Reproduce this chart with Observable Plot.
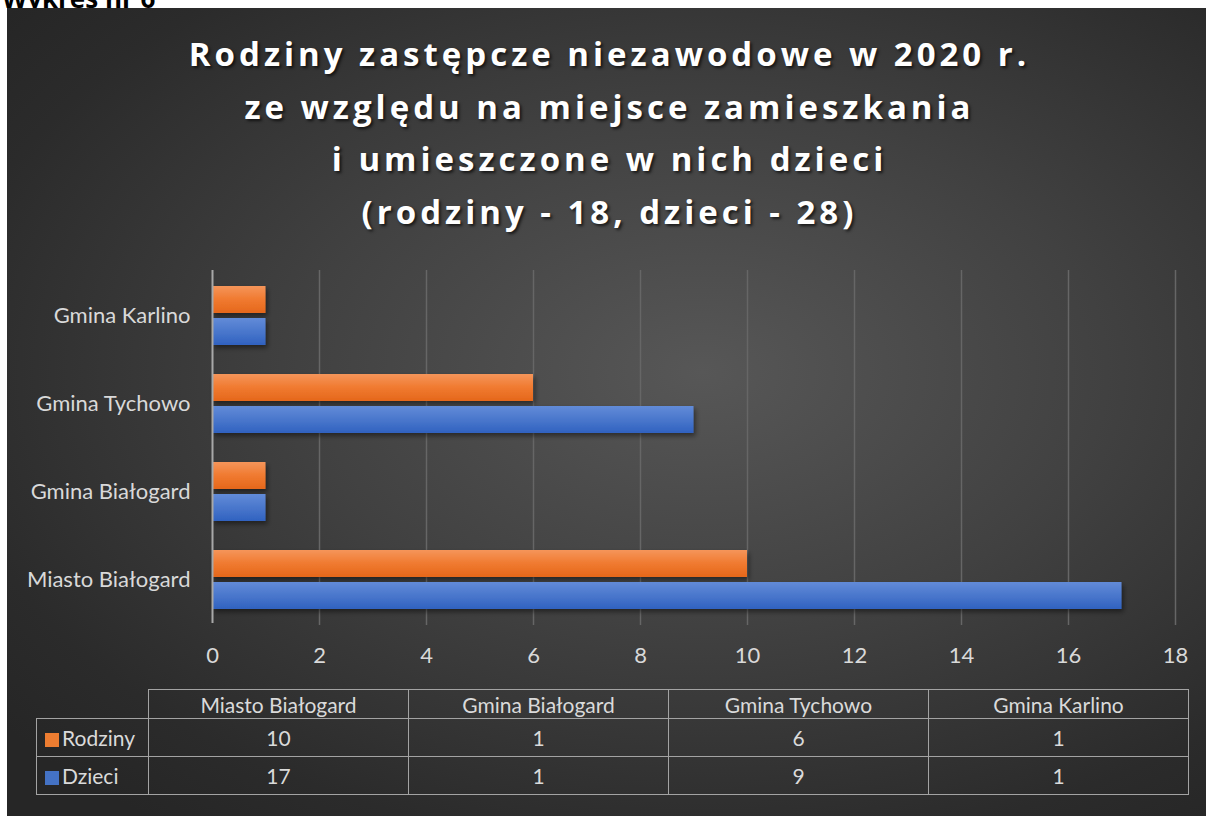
<!DOCTYPE html>
<html>
<head>
<meta charset="utf-8">
<script src="https://cdn.jsdelivr.net/npm/d3@7"></script>
<script src="https://cdn.jsdelivr.net/npm/@observablehq/plot@0.6"></script>
<style>
  html, body { margin: 0; padding: 0; background: #fff; width: 1206px; height: 816px; overflow: hidden; }
  #label { position: absolute; left: 2px; top: -20px; font: bold 26px "Open Sans", sans-serif; color: #000; z-index: 0; }
  #panel { position: absolute; left: 7px; top: 8px; width: 1199px; height: 808px; z-index: 1;
    background: radial-gradient(ellipse 75% 70% at 58% 45%, #575757 0%, #414141 45%, #2b2b2b 85%, #262626 100%); }
  #title { position: absolute; left: 10px; top: 8px; width: 1199px; text-align: center; z-index: 3;
    font: bold 33px "Open Sans", sans-serif; letter-spacing: 4px; color: #fff; line-height: 52.5px; padding-top: 20px;
    text-shadow: 2px 2px 3px rgba(0,0,0,0.65); }
  #chart { position: absolute; left: 0; top: 0; z-index: 2; }
  #tbl { position: absolute; left: 36px; top: 689px; z-index: 3; border-collapse: collapse;
    font: 21px Lato, sans-serif; color: #dadada; }
  #tbl td { border: 1.5px solid #a3a3a3; text-align: center; padding: 0; }
  #tbl td.empty { border: none; }
  #tbl tr.head td { height: 28px; }
  #tbl tr.row td { height: 37px; }
  #tbl td.name { text-align: left; padding-left: 8px; width: 103px; white-space: nowrap; }
  #tbl td.val { width: 259px; }
  .sw { display: inline-block; width: 14px; height: 14px; margin-right: 3px; vertical-align: -1px; }
</style>
</head>
<body>
<div id="label">Wykres nr 6</div>
<div id="panel"></div>
<div id="title">Rodziny zastępcze niezawodowe w 2020 r.<br>ze względu na miejsce zamieszkania<br>i umieszczone w nich dzieci<br>(rodziny - 18, dzieci - 28)</div>
<div id="chart"></div>
<table id="tbl"></table>
<script>
const categories = ["Miasto Białogard", "Gmina Białogard", "Gmina Tychowo", "Gmina Karlino"];
const seriesNames = ["Rodziny", "Dzieci"];
const rodziny = [10, 1, 6, 1];
const dzieci = [17, 1, 9, 1];
const xTicks = [0, 2, 4, 6, 8, 10, 12, 14, 16, 18];
const seriesColors = ["#ED7D31", "#4472C4"];

const table = categories.map((c, i) => ({cat: c, rodziny: rodziny[i], dzieci: dzieci[i]}));

const defs = () => {
  const ns = "http://www.w3.org/2000/svg";
  const d = document.createElementNS(ns, "defs");
  d.innerHTML = `
    <linearGradient id="gO" x1="0" y1="0" x2="0" y2="1">
      <stop offset="0" stop-color="#f5955a"/><stop offset="0.5" stop-color="#f07a30"/><stop offset="1" stop-color="#e5671b"/>
    </linearGradient>
    <linearGradient id="gB" x1="0" y1="0" x2="0" y2="1">
      <stop offset="0" stop-color="#628bd8"/><stop offset="0.5" stop-color="#4a77cc"/><stop offset="1" stop-color="#3062c0"/>
    </linearGradient>
    <filter id="sh" x="-5%" y="-30%" width="115%" height="170%">
      <feDropShadow dx="2" dy="3" stdDeviation="2.5" flood-color="#000" flood-opacity="0.45"/>
    </filter>`;
  return d;
};

const chart = Plot.plot({
  width: 1206,
  height: 816,
  marginLeft: 212,
  marginRight: 31,
  marginTop: 270,
  marginBottom: 191,
  style: {background: "transparent", color: "#d9d9d9", fontFamily: "Lato, sans-serif", fontSize: "22px"},
  x: {domain: [0, 18]},
  y: {domain: categories.slice().reverse(), paddingInner: 0.33, paddingOuter: 0.165},
  marks: [
    defs,
    Plot.ruleX(xTicks.filter(d => d > 0), {stroke: "#666666", strokeWidth: 1.5}),
    Plot.barX(table, {x: "rodziny", y: "cat", insetBottom: 32, fill: "url(#gO)"}),
    Plot.barX(table, {x: "dzieci", y: "cat", insetTop: 32, fill: "url(#gB)"}),
    Plot.ruleX([0], {stroke: "#a8a8a8", strokeWidth: 2, insetBottom: 2}),
    Plot.axisX({ticks: xTicks, tickSize: 0, tickPadding: 22, fontSize: 22, label: null, fill: "#d9d9d9"}),
    Plot.axisY({tickSize: 0, tickPadding: 22, fontSize: 22, label: null, fill: "#d9d9d9"})
  ]
});
d3.select(chart).selectAll('g[aria-label="bar"]').attr("filter", "url(#sh)");
document.getElementById("chart").appendChild(chart);

// data table
const tbl = d3.select("#tbl");
const head = tbl.append("tr").attr("class", "head");
head.append("td").attr("class", "empty");
categories.forEach(c => head.append("td").attr("class", "val").text(c));
[rodziny, dzieci].forEach((vals, k) => {
  const tr = tbl.append("tr").attr("class", "row");
  const nm = tr.append("td").attr("class", "name");
  nm.append("span").attr("class", "sw").style("background", seriesColors[k]);
  nm.append("span").text(seriesNames[k]);
  vals.forEach(v => tr.append("td").attr("class", "val").text(v));
});
</script>
</body>
</html>
